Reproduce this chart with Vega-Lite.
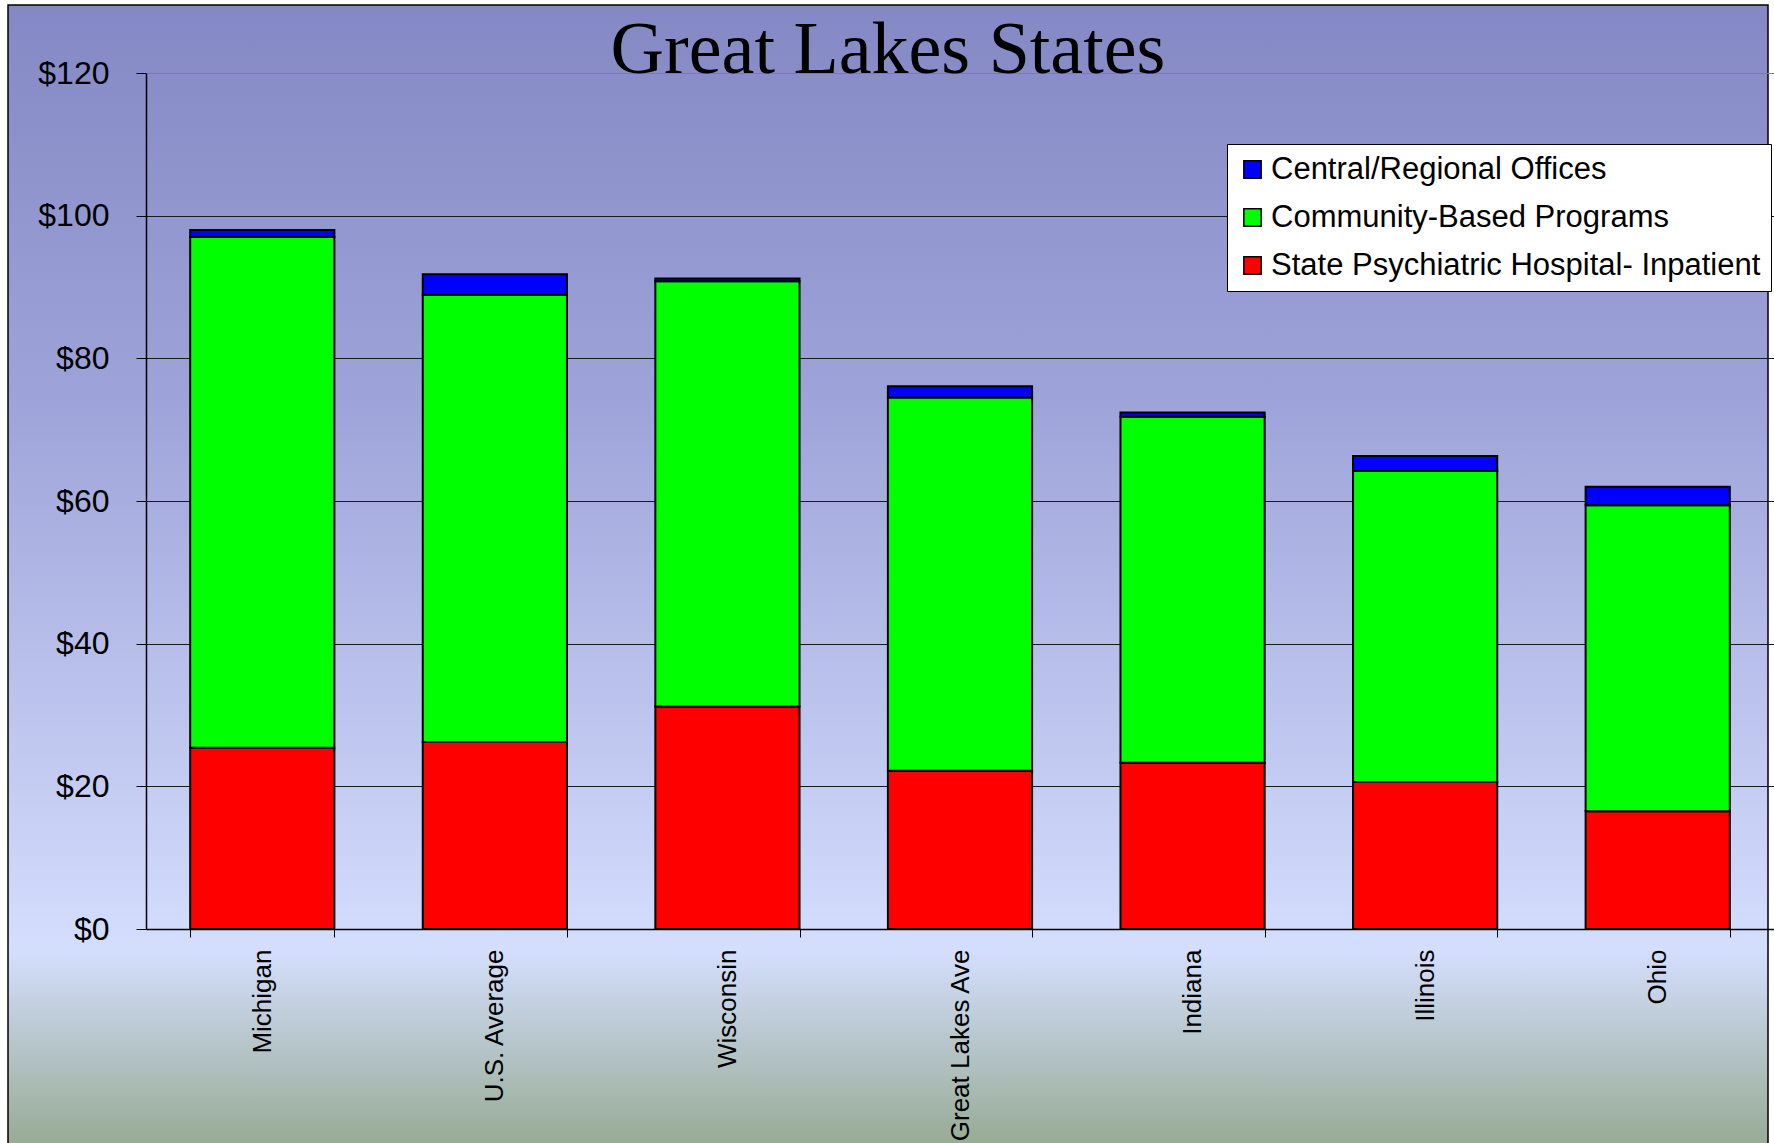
{
  "$schema": "https://vega.github.io/schema/vega-lite/v6.json",
  "width": 1760,
  "height": 1140,
  "autosize": {"type": "none"},
  "padding": {"left": 8, "top": 5, "right": 6, "bottom": 0},
  "background": "white",
  "layer": [
    {
      "data": {
        "values": [
          {"state": "Michigan", "category": "State Psychiatric Hospital- Inpatient", "amount": 25.4},
          {"state": "Michigan", "category": "Community-Based Programs", "amount": 71.6},
          {"state": "Michigan", "category": "Central/Regional Offices", "amount": 1.0},
          {"state": "U.S. Average", "category": "State Psychiatric Hospital- Inpatient", "amount": 26.2},
          {"state": "U.S. Average", "category": "Community-Based Programs", "amount": 62.7},
          {"state": "U.S. Average", "category": "Central/Regional Offices", "amount": 2.9},
          {"state": "Wisconsin", "category": "State Psychiatric Hospital- Inpatient", "amount": 31.2},
          {"state": "Wisconsin", "category": "Community-Based Programs", "amount": 59.6},
          {"state": "Wisconsin", "category": "Central/Regional Offices", "amount": 0.4},
          {"state": "Great Lakes Ave", "category": "State Psychiatric Hospital- Inpatient", "amount": 22.2},
          {"state": "Great Lakes Ave", "category": "Community-Based Programs", "amount": 52.3},
          {"state": "Great Lakes Ave", "category": "Central/Regional Offices", "amount": 1.6},
          {"state": "Indiana", "category": "State Psychiatric Hospital- Inpatient", "amount": 23.3},
          {"state": "Indiana", "category": "Community-Based Programs", "amount": 48.5},
          {"state": "Indiana", "category": "Central/Regional Offices", "amount": 0.6},
          {"state": "Illinois", "category": "State Psychiatric Hospital- Inpatient", "amount": 20.6},
          {"state": "Illinois", "category": "Community-Based Programs", "amount": 43.6},
          {"state": "Illinois", "category": "Central/Regional Offices", "amount": 2.1},
          {"state": "Ohio", "category": "State Psychiatric Hospital- Inpatient", "amount": 16.5},
          {"state": "Ohio", "category": "Community-Based Programs", "amount": 42.9},
          {"state": "Ohio", "category": "Central/Regional Offices", "amount": 2.6}
        ]
      },
      "mark": {"type": "bar", "stroke": "black", "strokeWidth": 2, "opacity": 1},
      "encoding": {
        "x": {
          "field": "state",
          "type": "nominal",
          "sort": ["Michigan", "U.S. Average", "Wisconsin", "Great Lakes Ave", "Indiana", "Illinois", "Ohio"],
          "scale": {"range": [138, 1766], "paddingInner": 0.38, "paddingOuter": 0.19},
          "axis": {
            "title": null,
            "orient": "bottom",
            "offset": -216,
            "labelAngle": -90,
            "labelFont": "Liberation Sans",
            "labelFontSize": 26,
            "labelColor": "black",
            "labelPadding": 12,
            "labelLimit": 0,
            "labelOverlap": false,
            "tickBand": "extent",
            "tickSize": 8,
            "tickColor": "black",
            "domainColor": "black",
            "domainWidth": 1.5,
            "grid": false
          }
        },
        "y": {
          "field": "amount",
          "type": "quantitative",
          "stack": "zero",
          "scale": {"domain": [0, 120], "range": [924, 68], "nice": false, "zero": true},
          "axis": {
            "title": null,
            "orient": "left",
            "offset": -138,
            "values": [0, 20, 40, 60, 80, 100, 120],
            "labelExpr": "'$' + datum.value",
            "labelFont": "Liberation Sans",
            "labelFontSize": 32,
            "labelColor": "black",
            "labelPadding": 27,
            "tickSize": 10,
            "tickColor": "black",
            "domainColor": "black",
            "domainWidth": 1.5,
            "grid": true,
            "gridColor": {"condition": {"test": "datum.value == 120", "value": "#808080"}, "value": "#1a1a1a"},
            "gridWidth": 1.2,
            "gridOpacity": 1
          }
        },
        "color": {
          "field": "category",
          "type": "nominal",
          "scale": {
            "domain": ["Central/Regional Offices", "Community-Based Programs", "State Psychiatric Hospital- Inpatient"],
            "range": ["#0000FF", "#00FF00", "#FF0000"]
          },
          "legend": {
            "title": null,
            "orient": "none",
            "legendX": 1219,
            "legendY": 139,
            "fillColor": "white",
            "strokeColor": "black",
            "padding": 10,
            "symbolType": "square",
            "symbolSize": 300,
            "symbolStrokeColor": "black",
            "symbolStrokeWidth": 1.5,
            "symbolOpacity": 1,
            "labelFont": "Liberation Sans",
            "labelFontSize": 31,
            "labelColor": "black",
            "labelOffset": 3,
            "labelLimit": 0,
            "rowPadding": 16
          }
        },
        "order": {"field": "category", "sort": "descending"}
      }
    },
    {
      "data": {"values": [{"heading": "Great Lakes States", "level": 120}]},
      "mark": {
        "type": "text",
        "font": "Liberation Serif",
        "fontSize": 74,
        "fontWeight": "normal",
        "color": "black",
        "align": "center",
        "baseline": "alphabetic"
      },
      "encoding": {
        "y": {"field": "level", "type": "quantitative"},
        "text": {"field": "heading"}
      }
    }
  ],
  "config": {
    "view": {
      "stroke": "black",
      "strokeWidth": 1.5,
      "fill": {
        "gradient": "linear",
        "x1": 0, "y1": 0, "x2": 0, "y2": 1,
        "stops": [
          {"offset": 0, "color": "#8488C4"},
          {"offset": 0.35, "color": "#9EA4D9"},
          {"offset": 0.7, "color": "#C6CEF4"},
          {"offset": 0.83, "color": "#D4DEFD"},
          {"offset": 1, "color": "#97AB94"}
        ]
      }
    }
  }
}
